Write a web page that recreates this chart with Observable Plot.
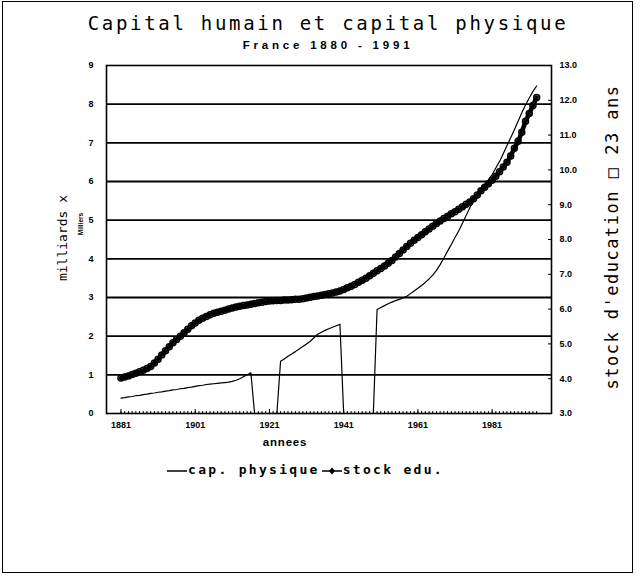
<!DOCTYPE html>
<html><head><meta charset="utf-8">
<script src="https://cdn.jsdelivr.net/npm/d3@7"></script>
<script src="https://cdn.jsdelivr.net/npm/@observablehq/plot@0.6"></script>
<style>
body{margin:0;background:#fff;}
#wrap{position:relative;width:642px;height:576px;overflow:hidden;color:#000;background:#fff;}
#border{position:absolute;left:2px;top:1px;width:629px;height:570px;border:1.5px solid #000;pointer-events:none;}
#chart{position:absolute;left:0;top:0;}
.t{position:absolute;white-space:nowrap;line-height:1;}
.mono{font-family:"DejaVu Sans Mono",monospace;}
.rot{transform:translate(-50%,-50%) rotate(-90deg);}
.cx{transform:translate(-50%,0);}
</style></head>
<body>
<div id="wrap">
  <div id="chart"></div>
  <div class="t mono cx" id="title" style="left:328px;top:14px;font-size:19px;letter-spacing:2.7px;">Capital humain et capital physique</div>
  <div class="t cx" id="subtitle" style="left:328px;top:40px;font-family:'Liberation Sans',Arial,sans-serif;font-weight:bold;font-size:11.5px;letter-spacing:3.8px;">France 1880 - 1991</div>
  <div class="t mono rot" id="ylab" style="left:62px;top:238px;font-size:13px;">milliards x</div>
  <div class="t rot" id="ylab2" style="left:81px;top:224px;font-family:'Liberation Sans',Arial,sans-serif;font-weight:bold;font-size:6.5px;">Milliers</div>
  <div class="t mono rot" id="y2lab" style="left:612px;top:237px;font-size:17px;letter-spacing:1.5px;">stock d'education □ 23 ans</div>
  <div class="t" id="xlab" style="left:285px;top:437px;transform:translate(-50%,0);font-family:'Liberation Sans',Arial,sans-serif;font-weight:bold;font-size:11.5px;letter-spacing:0.8px;">annees</div>
  <div class="t mono" id="legend" style="left:167px;top:463px;font-size:13px;font-weight:bold;letter-spacing:2.3px;display:flex;align-items:center;"></div>
  <div id="border"></div>
</div>
<script>
// ---- data ----
const years = [
 1881,1882,1883,1884,1885,1886,1887,1888,1889,1890,
 1891,1892,1893,1894,1895,1896,1897,1898,1899,1900,
 1901,1902,1903,1904,1905,1906,1907,1908,1909,1910,
 1911,1912,1913,1914,1915,1916,1917,1918,1919,1920,
 1921,1922,1923,1924,1925,1926,1927,1928,1929,1930,
 1931,1932,1933,1934,1935,1936,1937,1938,1939,1940,
 1941,1942,1943,1944,1945,1946,1947,1948,1949,1950,
 1951,1952,1953,1954,1955,1956,1957,1958,1959,1960,
 1961,1962,1963,1964,1965,1966,1967,1968,1969,1970,
 1971,1972,1973,1974,1975,1976,1977,1978,1979,1980,
 1981,1982,1983,1984,1985,1986,1987,1988,1989,1990,
 1991,1992,1993
];
// capital physique (milliards x milliers, left axis)
const capPhysique = [
 0.40,0.41,0.43,0.44,0.46,0.47,0.49,0.50,0.52,0.53,
 0.55,0.56,0.58,0.59,0.61,0.62,0.64,0.65,0.67,0.68,
 0.70,0.72,0.73,0.75,0.76,0.77,0.78,0.79,0.80,0.81,
 0.83,0.86,0.90,0.95,1.00,1.05,0,0,0,0,
 0,0,0,1.35,1.41,1.48,1.54,1.60,1.67,1.73,
 1.80,1.87,1.96,2.05,2.10,2.15,2.19,2.23,2.27,2.31,
 0,0,0,0,0,0,0,0,0,2.69,
 2.74,2.79,2.84,2.88,2.92,2.95,2.99,3.03,3.10,3.17,
 3.24,3.31,3.39,3.48,3.58,3.70,3.85,4.02,4.20,4.37,
 4.55,4.72,4.92,5.12,5.32,5.52,5.70,5.82,5.92,6.04,
 6.18,6.35,6.52,6.72,6.93,7.13,7.34,7.56,7.78,7.98,
 8.16,8.33,8.47
];
// stock d'education a 23 ans (annees, right axis)
const stockEdu = [
 4.02,4.05,4.08,4.12,4.16,4.20,4.24,4.29,4.35,4.45,
 4.56,4.68,4.80,4.92,5.03,5.13,5.22,5.32,5.42,5.52,
 5.60,5.68,5.74,5.79,5.84,5.88,5.91,5.94,5.97,6.00,
 6.03,6.06,6.08,6.10,6.12,6.14,6.16,6.18,6.20,6.22,
 6.23,6.24,6.25,6.25,6.26,6.26,6.27,6.28,6.28,6.30,
 6.32,6.34,6.36,6.38,6.40,6.42,6.44,6.46,6.49,6.52,
 6.56,6.61,6.66,6.71,6.77,6.83,6.89,6.96,7.03,7.10,
 7.17,7.24,7.32,7.40,7.50,7.60,7.70,7.80,7.89,7.98,
 8.06,8.14,8.22,8.30,8.38,8.46,8.53,8.60,8.67,8.74,
 8.80,8.87,8.94,9.01,9.08,9.17,9.28,9.40,9.50,9.60,
 9.70,9.82,9.95,10.08,10.22,10.40,10.62,10.82,11.08,11.40,
 11.62,11.85,12.08
];
const leftTicks = [0,1,2,3,4,5,6,7,8,9];
const gridLines = [1,2,3,4,5,6,7,8];
const rightTicks = [3,4,5,6,7,8,9,10,11,12,13];
const xTickYears = [1881,1901,1921,1941,1961,1981];
const legendLabels = ["cap. physique", "stock edu."];

// right axis (3..13 years) mapped onto left axis (0..9)
const rMin = 3, rMax = 13, lMax = 9;
const toLeft = r => (r - rMin) * lMax / (rMax - rMin);
const fromLeft = l => l * (rMax - rMin) / lMax + rMin;

const capData = years.map((y, i) => ({year: y, v: capPhysique[i]}));
const eduData = years.map((y, i) => ({year: y, v: toLeft(stockEdu[i])}));

const plot = Plot.plot({
  width: 642, height: 576,
  marginLeft: 106, marginRight: 91, marginTop: 65, marginBottom: 163,
  x: {domain: [1877.1, 1997.0], axis: null},
  y: {domain: [0, 9], axis: null},
  style: {fontFamily: "'Liberation Sans', Arial, sans-serif", fontSize: "9px", fontWeight: "bold", background: "transparent", color: "#000"},
  marks: [
    Plot.ruleY(gridLines, {stroke: "#000", strokeWidth: 1.8}),
    Plot.axisY(leftTicks, {anchor: "left", tickSize: 0, tickPadding: 13, label: null}),
    Plot.axisY(rightTicks.map(toLeft), {anchor: "right", tickSize: -4, tickPadding: 12, tickFormat: d => fromLeft(d).toFixed(1), label: null}),
    Plot.axisX(years, {anchor: "bottom", tickSize: -2, tickFormat: () => "", label: null}),
    Plot.axisX(xTickYears, {anchor: "bottom", tickSize: -4, tickPadding: 12, tickFormat: d => String(d), label: null}),
    Plot.line(capData, {x: "year", y: "v", stroke: "#000", strokeWidth: 1.2}),
    Plot.line(eduData, {x: "year", y: "v", stroke: "#000", strokeWidth: 4.5}),
    Plot.dot(eduData, {x: "year", y: "v", r: 3, stroke: "#000", strokeWidth: 1.5, fill: "none"}),
    Plot.frame({stroke: "#000", strokeWidth: 1.6})
  ]
});
document.getElementById("chart").appendChild(plot);

// legend
const lg = document.getElementById("legend");
lg.innerHTML =
  `<svg width="20" height="10" style="margin-right:1px"><line x1="0" y1="6" x2="20" y2="6" stroke="#000" stroke-width="1.5"/></svg>` +
  `<span>${legendLabels[0]}</span>` +
  `<svg width="20" height="10" style="margin-left:2px;margin-right:1px"><line x1="0" y1="6" x2="20" y2="6" stroke="#000" stroke-width="1.5"/><path d="M10,2.5L13,6L10,9.5L7,6Z" fill="#000"/></svg>` +
  `<span>${legendLabels[1]}</span>`;
</script>
</body></html>
